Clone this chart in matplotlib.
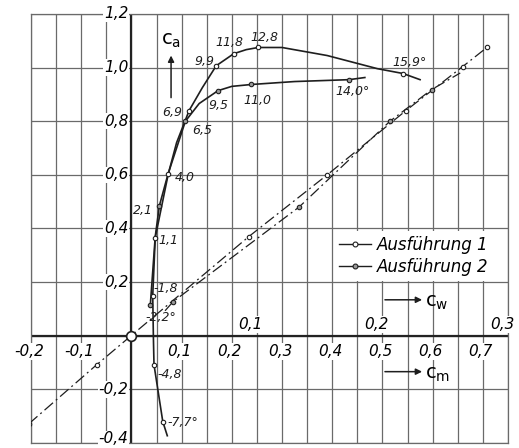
import numpy as np
import matplotlib.pyplot as plt
from matplotlib.lines import Line2D

plt.rcParams['mathtext.fontset'] = 'dejavusans'

# Ausfuehrung 1 - polar (cw, ca), labelled points
alpha1 = ['-7,7°', '-4,8', '-1,8', '1,1', '4,0', '6,9', '9,9', '11,8', '12,8', '15,9°']
cw1 = [0.025, 0.018, 0.017, 0.019, 0.0294, 0.046, 0.0676, 0.0816, 0.101, 0.2164]
ca1 = [-0.32, -0.108, 0.15, 0.366, 0.604, 0.84, 1.007, 1.052, 1.075, 0.978]
# points
cw1_line = [0.0286, 0.025, 0.018, 0.0175, 0.017, 0.019, 0.0294, 0.036, 0.046, 0.0565,
            0.0676, 0.0816, 0.0915, 0.101, 0.120, 0.156, 0.196, 0.2164, 0.230]
ca1_line = [-0.373, -0.32, -0.108, 0.0, 0.15, 0.366, 0.604, 0.72, 0.84, 0.925,
            1.007, 1.052, 1.067, 1.075, 1.075, 1.045, 0.996, 0.978, 0.955]

# Ausfuehrung 2 - polar
alpha2 = ['-2,2°', '2,1', '6,5', '9,5', '11,0', '14,0°']
cw2 = [0.0151, 0.0223, 0.043, 0.069, 0.0955, 0.1734]
ca2 = [0.116, 0.485, 0.80, 0.914, 0.937, 0.955]
cw2_line = [0.0151, 0.019, 0.0223, 0.029, 0.043, 0.054, 0.069, 0.080, 0.0955, 0.130, 0.1734, 0.186]
ca2_line = [0.116, 0.37, 0.485, 0.60, 0.80, 0.866, 0.914, 0.93, 0.937, 0.948, 0.955, 0.963]

# moment lines (cm, ca)
cm1 = [-0.204, -0.069, 0.234, 0.39, 0.547, 0.66, 0.708]
cam1 = [-0.328, -0.108, 0.37, 0.60, 0.84, 1.004, 1.075]
cm2 = [0.083, 0.334, 0.515, 0.598]
cam2 = [0.127, 0.48, 0.80, 0.918]
cm2_line = [0.067, 0.083, 0.334, 0.515, 0.598, 0.655]
cam2_line = [0.093, 0.127, 0.48, 0.80, 0.918, 0.98]

ca_ticks = [1.2, 1.0, 0.8, 0.6, 0.4, 0.2, -0.2, -0.4]
cm_ticks = [-0.2, -0.1, 0.1, 0.2, 0.3, 0.4, 0.5, 0.6, 0.7]
cw_ticks = [0.1, 0.2, 0.3]

# label offsets in pixels (dx right, dy down)
off1 = [(5, 1, 'left'), (3, 10, 'left'), (1, -7, 'left'), (3, 3, 'left'), (6, 4, 'left'),
        (-7, 2, 'right'), (-2, -4, 'right'), (-4, -11, 'center'), (6, -10, 'center'), (7, -11, 'center')]
off2 = [(-5, 13, 'left'), (-6, 5, 'right'), (7, 9, 'left'), (0, 15, 'center'), (6, 16, 'center'), (3, 12, 'center')]

def fmt(v):
    return ('%.1f' % v).replace('.', ',')

fig = plt.figure(figsize=(5.19, 4.48), dpi=100)
ax = fig.add_axes([0.0597, 0.0112, 0.919, 0.9576])
ax.set_xlim(-0.2, 0.75)
ax.set_ylim(-0.4, 1.2)
ax.set_xticks(np.arange(-0.2, 0.751, 0.05))
ax.set_yticks(np.arange(-0.4, 1.21, 0.2))
ax.grid(True, color='#6a6a6a', lw=0.9)
ax.tick_params(length=0, labelbottom=False, labelleft=False)
for s in ax.spines.values():
    s.set_color('#6a6a6a')
    s.set_linewidth(0.9)
ax.axhline(0, color='#222222', lw=1.6, zorder=2)
ax.axvline(0, color='#222222', lw=1.6, zorder=2)

ax2 = ax.twiny()
ax2.set_xlim(-0.2 / 2.5, 0.75 / 2.5)
ax2.axis('off')

lc = '#1e1e1e'
# moment lines
dash = (0, (9, 3, 1.5, 3))
ax.plot(cm1, cam1, color=lc, lw=0.9, ls=dash, marker='o', ms=3.2, mfc='white', mec=lc, mew=0.8, zorder=3)
ax.plot(cm2_line, cam2_line, color=lc, lw=0.9, ls=dash, zorder=3)
ax.plot(cm2, cam2, ls='none', marker='o', ms=3.2, mfc='#999999', mec=lc, mew=0.8, zorder=3)

# polars
ax2.plot(cw1_line, ca1_line, color=lc, lw=1.2, zorder=3)
ax2.plot(cw1, ca1, ls='none', marker='o', ms=3.2, mfc='white', mec=lc, mew=0.8, zorder=4)
ax2.plot(cw2_line, ca2_line, color=lc, lw=1.2, zorder=3)
ax2.plot(cw2, ca2, ls='none', marker='o', ms=3.2, mfc='#999999', mec=lc, mew=0.8, zorder=4)

for lab, x, y, (dx, dy, ha) in zip(alpha1, cw1, ca1, off1):
    ax2.annotate(lab, (x, y), xytext=(dx, -dy), textcoords='offset pixels',
                 ha=ha, va='center', fontsize=9, style='italic', color=lc)
for lab, x, y, (dx, dy, ha) in zip(alpha2, cw2, ca2, off2):
    ax2.annotate(lab, (x, y), xytext=(dx, -dy), textcoords='offset pixels',
                 ha=ha, va='center', fontsize=9, style='italic', color=lc)

# origin circle
ax.plot([0], [0], 'o', ms=7, mfc='white', mec=lc, mew=1.2, zorder=6)

# axis labels as text on white
bb = dict(fc='white', ec='none', pad=0.6)
for v in ca_ticks:
    dy = 4 if v == -0.4 else 0
    ax.annotate(fmt(v), (0, v), xytext=(-3, dy), textcoords='offset pixels',
                ha='right', va='center', fontsize=11, style='italic', bbox=bb, annotation_clip=False)
for v in cm_ticks:
    ax.annotate(fmt(v), (v, 0), xytext=(-2, -16), textcoords='offset pixels',
                ha='center', va='center', fontsize=11, style='italic', bbox=bb, annotation_clip=False)
for v in cw_ticks:
    ax2.annotate(fmt(v), (v, 0), xytext=(-6, 11), textcoords='offset pixels',
                 ha='center', va='center', fontsize=11, style='italic', bbox=bb, annotation_clip=False)

# arrows with coefficient names
arr = dict(arrowstyle='-|>', color=lc, lw=1.1, mutation_scale=9, shrinkA=0, shrinkB=0)
ax.annotate('', xy=(0.079, 1.045), xytext=(0.079, 0.888), arrowprops=arr)
ax.text(0.079, 1.1, r'$\mathrm{c_a}$', ha='center', va='center', fontsize=14)
ax.annotate('', xy=(0.579, 0.134), xytext=(0.505, 0.134), arrowprops=arr)
ax.text(0.585, 0.125, r'$\mathrm{c_w}$', ha='left', va='center', fontsize=14)
ax.annotate('', xy=(0.579, -0.134), xytext=(0.505, -0.134), arrowprops=arr)
ax.text(0.585, -0.145, r'$\mathrm{c_m}$', ha='left', va='center', fontsize=14)

handles = [Line2D([], [], color=lc, lw=1.0, marker='o', ms=3.5, mfc='white', mec=lc, mew=0.8),
           Line2D([], [], color=lc, lw=1.0, marker='o', ms=3.5, mfc='#999999', mec=lc, mew=0.8)]
leg = ax.legend(handles, ['Ausführung 1', 'Ausführung 2'], loc='upper left',
                bbox_to_anchor=(0.635, 0.495), frameon=True, fancybox=False,
                facecolor='white', edgecolor='none', framealpha=1,
                prop=dict(style='italic', size=12), handlelength=1.9, handletextpad=0.4,
                borderpad=0.3, labelspacing=0.25, borderaxespad=0)
leg.set_zorder(7)

fig.savefig('out.png', dpi=100)
